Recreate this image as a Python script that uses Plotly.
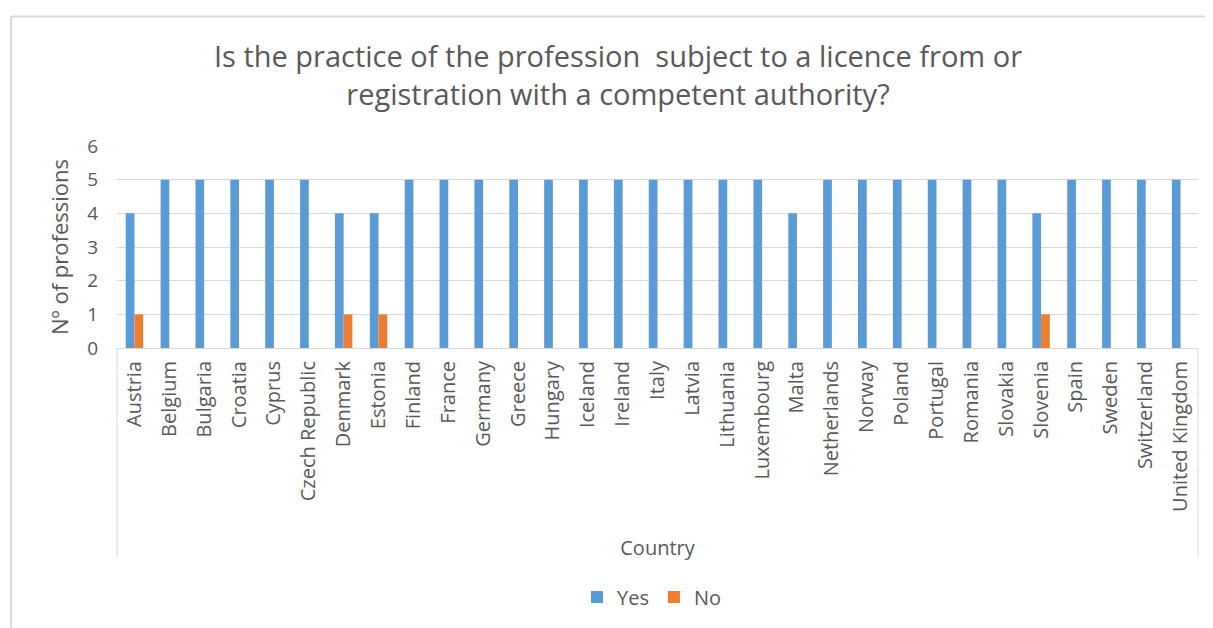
import plotly.graph_objects as go

countries = ["Austria", "Belgium", "Bulgaria", "Croatia", "Cyprus", "Czech Republic",
             "Denmark", "Estonia", "Finland", "France", "Germany", "Greece", "Hungary",
             "Iceland", "Ireland", "Italy", "Latvia", "Lithuania", "Luxembourg", "Malta",
             "Netherlands", "Norway", "Poland", "Portugal", "Romania", "Slovakia",
             "Slovenia", "Spain", "Sweden", "Switzerland", "United Kingdom"]
yes_values = [4, 5, 5, 5, 5, 5, 4, 4, 5, 5, 5, 5, 5, 5, 5, 5, 5, 5, 5, 4,
              5, 5, 5, 5, 5, 5, 4, 5, 5, 5, 5]
no_values = [1, 0, 0, 0, 0, 0, 1, 1, 0, 0, 0, 0, 0, 0, 0, 0, 0, 0, 0, 0,
             0, 0, 0, 0, 0, 0, 1, 0, 0, 0, 0]
y_ticks = [0, 1, 2, 3, 4, 5, 6]

# page body has an 8px margin; figure coordinates are page coordinates - 8
OFF = 8
W, H = 1205, 620
ML, MR, MT, MB = 117 - OFF, 15, 146 - OFF, 628 - 352
pw = W - ML - MR
ph = H - MT - MB

FONT = "Open Sans"
GREY = "#595959"

fig = go.Figure()
fig.add_trace(go.Bar(name="Yes", x=countries, y=yes_values, marker_color="#5B9BD5",
                     marker_line_width=0))
fig.add_trace(go.Bar(name="No", x=countries, y=[v if v else None for v in no_values],
                     marker_color="#ED7D31", marker_line_width=0))

def px_x(p):  # page pixel -> paper fraction
    return (p - OFF - ML) / pw

def px_y(p):
    return (H - MB - (p - OFF)) / ph

shapes = [
    # chart border (top and left)
    dict(type="line", xref="paper", yref="paper", x0=px_x(11), x1=px_x(1240),
         y0=px_y(14), y1=px_y(14), line=dict(color="#D9D9D9", width=2)),
    dict(type="line", xref="paper", yref="paper", x0=px_x(11), x1=px_x(11),
         y0=px_y(14), y1=px_y(660), line=dict(color="#D9D9D9", width=2)),
    # category axis box sides
    dict(type="line", xref="paper", yref="paper", x0=0, x1=0,
         y0=0, y1=px_y(566), line=dict(color="#D9D9D9", width=1)),
    dict(type="line", xref="paper", yref="paper", x0=1, x1=1,
         y0=0, y1=px_y(566), line=dict(color="#D9D9D9", width=1)),
]

fig.update_layout(
    width=W, height=H,
    margin=dict(l=ML, r=MR, t=MT, b=MB),
    paper_bgcolor="white", plot_bgcolor="white",
    font=dict(family=FONT, color=GREY),
    title=dict(text="Is the practice of the profession  subject to a licence from or<br>registration with a competent authority?",
               x=px_x(618), xref="paper", xanchor="center", y=1 - (67 - OFF) / H, yanchor="middle",
               font=dict(size=29, color=GREY, family=FONT)),
    barmode="group", bargap=0.5, bargroupgap=0,
    xaxis=dict(tickangle=-90, tickfont=dict(size=20, color=GREY), showline=True,
               linecolor="#D9D9D9", linewidth=1, ticks="", showgrid=False,
               ticklabelstandoff=4,
               title=dict(text="Country", font=dict(size=20, color=GREY), standoff=30),
               automargin=False),
    yaxis=dict(range=[0, 6], tickvals=y_ticks, tickfont=dict(size=19, color=GREY),
               gridcolor="#D9D9D9", gridwidth=1, zeroline=False, showline=False,
               ticks="", ticklabelstandoff=18,
               title=dict(text="Nº of professions", font=dict(size=22, color=GREY), standoff=12),
               automargin=False),
    legend=dict(orientation="h", x=px_x(652), xanchor="center", y=px_y(606), yanchor="middle",
                font=dict(size=20, color=GREY), itemwidth=30, traceorder="normal"),
    shapes=shapes,
)

fig.write_html("out.html")
